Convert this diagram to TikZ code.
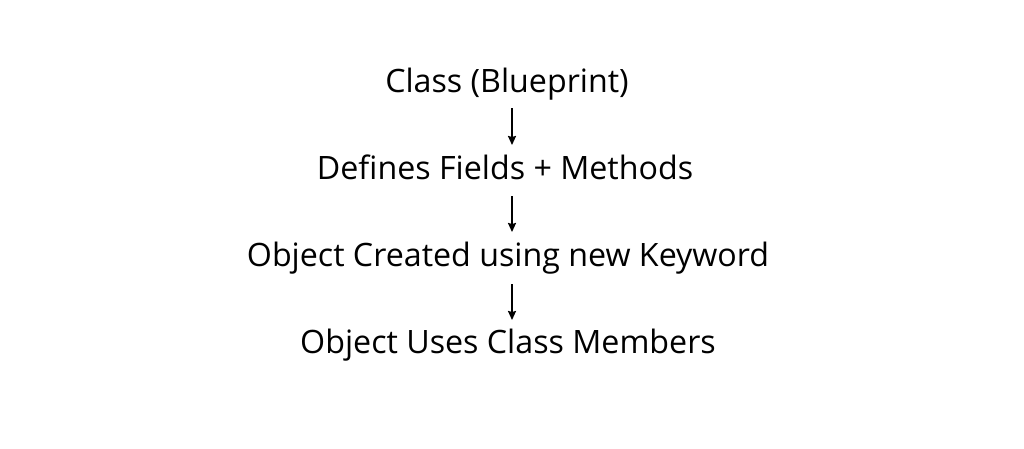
\documentclass[tikz,border=0pt]{standalone}
\usepackage{fontspec}
\setmainfont{Open Sans}
\usetikzlibrary{arrows.meta}
\begin{document}
\begin{tikzpicture}[x=1pt,y=1pt,
  lbl/.style={anchor=base, inner sep=0pt, font=\fontsize{32.2}{38}\selectfont},
  conn/.style={line width=1.8pt, -{Stealth[length=9pt,width=8pt,inset=1pt]}}]
\useasboundingbox[fill=white] (0,0) rectangle (1024,-448);
\node[lbl] (n1) at (507,-92) {Class (Blueprint)};
\node[lbl] (n2) at (505,-179) {Defines Fields + Methods};
\node[lbl] (n3) at (508,-266) {Object Created using new Keyword};
\node[lbl] (n4) at (508,-353) {Object Uses Class Members};
\draw[conn] ([shift={(5,-16)}]n1.base) -- ([shift={(7,34)}]n2.base);
\draw[conn] ([shift={(7,-17)}]n2.base) -- ([shift={(4,34)}]n3.base);
\draw[conn] ([shift={(4,-18)}]n3.base) -- ([shift={(4,33)}]n4.base);
\end{tikzpicture}
\end{document}
